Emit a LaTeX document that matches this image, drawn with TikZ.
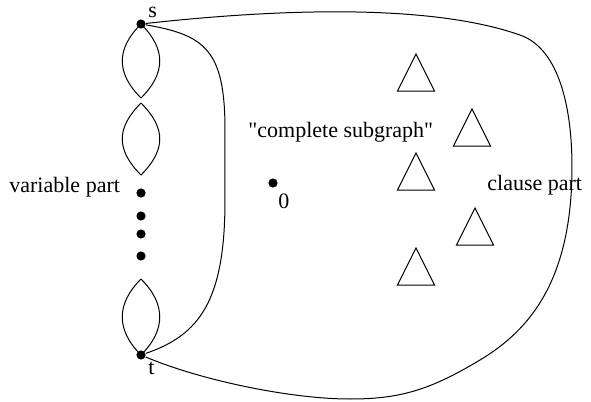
\documentclass[tikz,border=0pt]{standalone}
\usepackage{fontspec}
\setmainfont{Liberation Serif}
\usetikzlibrary{positioning}

\begin{document}
\begin{tikzpicture}[
    x=0.5pt, y=-0.5pt,
    font=\fontsize{11}{13}\selectfont,
    vertex/.style={circle, fill=black, inner sep=0pt, minimum size=4.6pt},
    lbl/.style={inner sep=0pt, anchor=base west},
    edge/.style={draw=black, line width=0.5pt}
  ]
  \useasboundingbox (0,0) rectangle (591,402);
  % terminals and the lone vertex
  \node[vertex] (s) at (141,24) {};
  \node[vertex] (t) at (141,355) {};
  \node[vertex] (zero) at (273,183) {};
  \node[lbl] (slbl) at (148,17) {s};
  \node[lbl] (tlbl) at (148,374) {t};
  \node[lbl] (zlbl) at (278,208) {0};
  % variable gadgets
  \foreach \a/\b in {24/98, 103/175, 279/355}
    \draw[edge] (141,\a) .. controls +(-25,25) and +(-25,-25) .. (141,\b)
                         .. controls +(25,-25) and +(25,25) .. (141,\a);
  \foreach \y [count=\i] in {193,216,234,256}
    \node[vertex] (d\i) at (141,\y) {};
  % clause gadgets
  \foreach \x/\y in {416/54, 472/109, 416/153, 475/208, 416/248}
    \draw[edge] (\x,\y) -- ++(-18.5,37) -- ++(37,0) -- cycle;
  % texts
  \node[lbl] (var) at (9,192) {variable part};
  \node[lbl] (comp) at (248,137) {\textquotedbl complete subgraph\textquotedbl};
  \node[lbl] (cls) at (487,190) {clause part};
  % connections s--t
  \draw[edge] (s) .. controls (205,35) and (225,50) .. (225,130)
    -- (225,200) .. controls (225,300) and (200,335) .. (t);
  \draw[edge] (s) .. controls (250,12) and (420,0) .. (520,35)
    .. controls (560,49) and (572,110) .. (572,167)
    .. controls (572,280) and (530,330) .. (480,360)
    .. controls (430,390) and (400,399) .. (350,399)
    .. controls (290,399) and (200,380) .. (t);
\end{tikzpicture}
\end{document}
